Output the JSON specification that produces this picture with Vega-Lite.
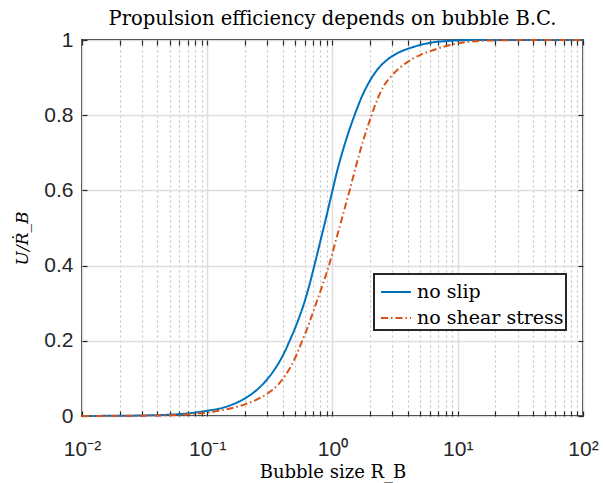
{
  "$schema": "https://vega.github.io/schema/vega-lite/v6.json",
  "width": 501,
  "height": 376,
  "autosize": {"type": "none"},
  "padding": {"left": 82, "top": 40, "right": 20, "bottom": 67},
  "background": "white",
  "config": {
    "view": {"stroke": "#262626", "strokeWidth": 1.8},
    "axis": {"domain": false, "tickColor": "#262626", "tickWidth": 1.2}
  },
  "title": {
    "text": "Propulsion efficiency depends on bubble B.C.",
    "font": "DejaVu Serif",
    "fontSize": 19.5,
    "fontWeight": "normal",
    "color": "#000000",
    "baseline": "bottom",
    "offset": 9,
    "dy": 28
  },
  "data": {
    "values": [
      {"bc": "no slip", "R": 0.01, "U": 0.0002},
      {"bc": "no slip", "R": 0.02, "U": 0.0006},
      {"bc": "no slip", "R": 0.03, "U": 0.0013},
      {"bc": "no slip", "R": 0.05, "U": 0.0035},
      {"bc": "no slip", "R": 0.07, "U": 0.007},
      {"bc": "no slip", "R": 0.1, "U": 0.014},
      {"bc": "no slip", "R": 0.13, "U": 0.021},
      {"bc": "no slip", "R": 0.16, "U": 0.031},
      {"bc": "no slip", "R": 0.2, "U": 0.047},
      {"bc": "no slip", "R": 0.25, "U": 0.07},
      {"bc": "no slip", "R": 0.3, "U": 0.097},
      {"bc": "no slip", "R": 0.35, "U": 0.127},
      {"bc": "no slip", "R": 0.41, "U": 0.167},
      {"bc": "no slip", "R": 0.455, "U": 0.2},
      {"bc": "no slip", "R": 0.5, "U": 0.232},
      {"bc": "no slip", "R": 0.55, "U": 0.268},
      {"bc": "no slip", "R": 0.6, "U": 0.305},
      {"bc": "no slip", "R": 0.65, "U": 0.345},
      {"bc": "no slip", "R": 0.71, "U": 0.395},
      {"bc": "no slip", "R": 0.8, "U": 0.465},
      {"bc": "no slip", "R": 0.9, "U": 0.535},
      {"bc": "no slip", "R": 1.0, "U": 0.6},
      {"bc": "no slip", "R": 1.1, "U": 0.657},
      {"bc": "no slip", "R": 1.25, "U": 0.722},
      {"bc": "no slip", "R": 1.5, "U": 0.8},
      {"bc": "no slip", "R": 1.75, "U": 0.856},
      {"bc": "no slip", "R": 2.0, "U": 0.893},
      {"bc": "no slip", "R": 2.33, "U": 0.925},
      {"bc": "no slip", "R": 2.75, "U": 0.948},
      {"bc": "no slip", "R": 3.3, "U": 0.965},
      {"bc": "no slip", "R": 4.2, "U": 0.979},
      {"bc": "no slip", "R": 5.2, "U": 0.988},
      {"bc": "no slip", "R": 6.4, "U": 0.994},
      {"bc": "no slip", "R": 8, "U": 0.997},
      {"bc": "no slip", "R": 10, "U": 0.999},
      {"bc": "no slip", "R": 15, "U": 1.0},
      {"bc": "no slip", "R": 30, "U": 1.0},
      {"bc": "no slip", "R": 100, "U": 1.0},
      {"bc": "no shear stress", "R": 0.01, "U": 0.0001},
      {"bc": "no shear stress", "R": 0.02, "U": 0.0004},
      {"bc": "no shear stress", "R": 0.03, "U": 0.0009},
      {"bc": "no shear stress", "R": 0.05, "U": 0.0022},
      {"bc": "no shear stress", "R": 0.07, "U": 0.0045},
      {"bc": "no shear stress", "R": 0.1, "U": 0.009},
      {"bc": "no shear stress", "R": 0.134, "U": 0.016},
      {"bc": "no shear stress", "R": 0.17, "U": 0.024},
      {"bc": "no shear stress", "R": 0.2, "U": 0.031},
      {"bc": "no shear stress", "R": 0.25, "U": 0.044},
      {"bc": "no shear stress", "R": 0.3, "U": 0.059},
      {"bc": "no shear stress", "R": 0.36, "U": 0.08},
      {"bc": "no shear stress", "R": 0.42, "U": 0.108},
      {"bc": "no shear stress", "R": 0.47, "U": 0.135},
      {"bc": "no shear stress", "R": 0.52, "U": 0.165},
      {"bc": "no shear stress", "R": 0.57, "U": 0.198},
      {"bc": "no shear stress", "R": 0.62, "U": 0.228},
      {"bc": "no shear stress", "R": 0.667, "U": 0.257},
      {"bc": "no shear stress", "R": 0.75, "U": 0.305},
      {"bc": "no shear stress", "R": 0.85, "U": 0.357},
      {"bc": "no shear stress", "R": 0.946, "U": 0.405},
      {"bc": "no shear stress", "R": 1.05, "U": 0.46},
      {"bc": "no shear stress", "R": 1.2, "U": 0.53},
      {"bc": "no shear stress", "R": 1.37, "U": 0.6},
      {"bc": "no shear stress", "R": 1.55, "U": 0.668},
      {"bc": "no shear stress", "R": 1.75, "U": 0.73},
      {"bc": "no shear stress", "R": 2.05, "U": 0.8},
      {"bc": "no shear stress", "R": 2.3, "U": 0.845},
      {"bc": "no shear stress", "R": 2.57, "U": 0.878},
      {"bc": "no shear stress", "R": 3.0, "U": 0.907},
      {"bc": "no shear stress", "R": 3.5, "U": 0.928},
      {"bc": "no shear stress", "R": 4.2, "U": 0.947},
      {"bc": "no shear stress", "R": 5.0, "U": 0.96},
      {"bc": "no shear stress", "R": 6.1, "U": 0.971},
      {"bc": "no shear stress", "R": 7.5, "U": 0.981},
      {"bc": "no shear stress", "R": 9.3, "U": 0.989},
      {"bc": "no shear stress", "R": 12, "U": 0.995},
      {"bc": "no shear stress", "R": 16, "U": 0.998},
      {"bc": "no shear stress", "R": 25, "U": 0.9995},
      {"bc": "no shear stress", "R": 40, "U": 1.0},
      {"bc": "no shear stress", "R": 100, "U": 1.0}
    ]
  },
  "resolve": {"axis": {"x": "independent", "y": "independent"}},
  "layer": [
    {
      "mark": {"type": "line", "strokeWidth": 2, "interpolate": "monotone"},
      "encoding": {
        "x": {
          "field": "R",
          "type": "quantitative",
          "scale": {"type": "log", "domain": [0.01, 100], "nice": false},
          "axis": {
            "orient": "bottom",
            "values": [0.01, 0.02, 0.03, 0.04, 0.05, 0.06, 0.07, 0.08, 0.09, 0.1, 0.2, 0.3, 0.4, 0.5, 0.6, 0.7, 0.8, 0.9, 1, 2, 3, 4, 5, 6, 7, 8, 9, 10, 20, 30, 40, 50, 60, 70, 80, 90, 100],
            "labelExpr": "datum.value == 0.01 ? '10⁻²' : datum.value == 0.1 ? '10⁻¹' : datum.value == 1 ? '10⁰' : datum.value == 10 ? '10¹' : datum.value == 100 ? '10²' : ''",
            "grid": true,
            "gridColor": {"condition": {"test": "datum.value == 0.01 || datum.value == 0.1 || datum.value == 1 || datum.value == 10 || datum.value == 100", "value": "#dedede"}, "value": "#c2c2c2"},
            "gridDash": {"condition": {"test": "datum.value == 0.01 || datum.value == 0.1 || datum.value == 1 || datum.value == 10 || datum.value == 100", "value": [1, 0]}, "value": [2, 3]},
            "gridWidth": {"condition": {"test": "datum.value == 0.01 || datum.value == 0.1 || datum.value == 1 || datum.value == 10 || datum.value == 100", "value": 1.5}, "value": 1.2},
            "tickSize": -5,
            "labelFont": "Liberation Sans",
            "labelFontSize": 21,
            "labelColor": "#262626",
            "labelPadding": 27,
            "labelOverlap": false,
            "labelFlush": false,
            "labelBound": false,
            "title": "Bubble size R_B",
            "titleFont": "DejaVu Serif",
            "titleFontSize": 18,
            "titleFontWeight": "normal",
            "titleColor": "#000000",
            "titleBaseline": "alphabetic",
            "titleY": 61
          }
        },
        "y": {
          "field": "U",
          "type": "quantitative",
          "scale": {"domain": [0, 1], "nice": false},
          "axis": {
            "orient": "left",
            "values": [0, 0.2, 0.4, 0.6, 0.8, 1],
            "labelExpr": "format(datum.value, '.1~f')",
            "grid": true,
            "gridColor": "#dedede",
            "gridWidth": 1.5,
            "tickSize": -5,
            "labelFont": "Liberation Sans",
            "labelFontSize": 21,
            "labelColor": "#262626",
            "labelPadding": 14,
            "title": "U/Ṙ_B",
            "titleFont": "DejaVu Serif",
            "titleFontStyle": "italic",
            "titleFontSize": 17,
            "titleFontWeight": "normal",
            "titleColor": "#000000",
            "titleBaseline": "alphabetic",
            "titleAlign": "center",
            "titleAngle": -90,
            "titleX": -55,
            "titleY": 198
          }
        },
        "color": {
          "field": "bc",
          "type": "nominal",
          "scale": {"domain": ["no slip", "no shear stress"], "range": ["#0072BD", "#D95319"]},
          "legend": {
            "orient": "none",
            "legendX": 292,
            "legendY": 234,
            "title": null,
            "fillColor": "white",
            "strokeColor": "#262626",
            "padding": 2,
            "rowPadding": 0,
            "symbolType": "stroke",
            "symbolSize": 900,
            "symbolOffset": 4,
            "symbolStrokeWidth": 2,
            "labelFont": "DejaVu Serif",
            "labelFontSize": 19,
            "labelColor": "#000000",
            "labelOffset": 5,
            "encode": {"legend": {"update": {"strokeWidth": {"value": 2}}}}
          }
        },
        "strokeDash": {
          "field": "bc",
          "type": "nominal",
          "scale": {"domain": ["no slip", "no shear stress"], "range": [[1, 0], [7, 3, 1.5, 3]]},
          "legend": {
            "orient": "none",
            "legendX": 292,
            "legendY": 234,
            "title": null,
            "fillColor": "white",
            "strokeColor": "#262626",
            "padding": 2,
            "rowPadding": 0,
            "symbolType": "stroke",
            "symbolSize": 900,
            "symbolOffset": 4,
            "symbolStrokeWidth": 2,
            "labelFont": "DejaVu Serif",
            "labelFontSize": 19,
            "labelColor": "#000000",
            "labelOffset": 5,
            "encode": {"legend": {"update": {"strokeWidth": {"value": 2}}}}
          }
        }
      }
    },
    {
      "mark": {"type": "line", "opacity": 0, "strokeWidth": 0},
      "encoding": {
        "x": {
          "field": "R",
          "type": "quantitative",
          "axis": {
            "orient": "top",
            "values": [0.01, 0.02, 0.03, 0.04, 0.05, 0.06, 0.07, 0.08, 0.09, 0.1, 0.2, 0.3, 0.4, 0.5, 0.6, 0.7, 0.8, 0.9, 1, 2, 3, 4, 5, 6, 7, 8, 9, 10, 20, 30, 40, 50, 60, 70, 80, 90, 100],
            "labels": false,
            "grid": false,
            "tickSize": -5,
            "title": null
          }
        },
        "y": {
          "field": "U",
          "type": "quantitative",
          "axis": {
            "orient": "right",
            "values": [0, 0.2, 0.4, 0.6, 0.8, 1],
            "labels": false,
            "grid": false,
            "tickSize": -5,
            "title": null
          }
        },
        "detail": {"field": "bc", "type": "nominal"}
      }
    }
  ]
}
